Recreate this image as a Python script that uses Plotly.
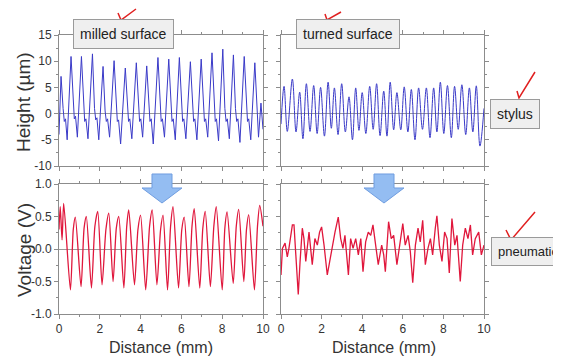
import plotly.graph_objects as go

# ---------------- data ----------------
milled_x = [0.00, 0.10, 0.20, 0.26, 0.32, 0.40, 0.59, 0.69, 0.75, 0.81, 0.90,
            1.10, 1.20, 1.26, 1.32, 1.42, 1.64, 1.74, 1.80, 1.86, 1.95,
            2.16, 2.26, 2.32, 2.38, 2.48, 2.70, 2.80, 2.86, 2.92, 3.02,
            3.25, 3.35, 3.41, 3.47, 3.57, 3.79, 3.89, 3.95, 4.01, 4.10,
            4.30, 4.40, 4.46, 4.52, 4.62, 4.85, 4.95, 5.01, 5.07, 5.17,
            5.38, 5.48, 5.54, 5.60, 5.70, 5.90, 6.00, 6.06, 6.12, 6.22,
            6.44, 6.54, 6.60, 6.66, 6.76, 6.97, 7.07, 7.13, 7.19, 7.29,
            7.50, 7.60, 7.66, 7.72, 7.82, 8.03, 8.13, 8.19, 8.25, 8.35,
            8.55, 8.65, 8.71, 8.77, 8.87, 9.08, 9.18, 9.24, 9.30, 9.40,
            9.60, 9.70, 9.78, 9.90, 10.00]
milled_y = [-4.0, 7.1, 1.0, -1.5, -1.0, -5.0, 10.9, 1.5, -1.0, -0.5, -4.5,
            10.9, 1.0, -1.5, -1.0, -4.8, 11.4, 1.0, -1.2, -0.8, -5.0,
            9.0, 0.5, -1.5, -1.0, -4.5, 10.1, 1.0, -1.5, -1.2, -5.8,
            8.7, 0.5, -1.5, -1.0, -4.8, 9.7, 1.0, -1.5, -1.0, -4.5,
            9.1, 0.5, -1.5, -1.0, -5.8, 10.7, 1.0, -1.5, -1.0, -4.5,
            10.4, 1.0, -1.5, -1.0, -5.0, 10.7, 1.0, -1.5, -1.0, -4.8,
            9.9, 1.0, -1.5, -1.0, -5.0, 10.4, 1.0, -1.5, -1.0, -4.5,
            11.6, 1.0, -1.5, -1.0, -5.2, 12.3, 1.0, -1.5, -1.0, -4.8,
            11.2, 1.0, -1.5, -1.0, -5.5, 10.9, 1.0, -1.5, -1.0, -5.0,
            9.7, 1.0, -4.5, 2.0, -3.0]

turned_x = [0.0, 0.15, 0.31, 0.56, 0.74, 0.92, 1.08, 1.25, 1.43, 1.61,
            1.78, 1.95, 2.14, 2.32, 2.48, 2.63, 2.81, 2.99, 3.17, 3.35,
            3.52, 3.68, 3.84, 4.0, 4.18, 4.37, 4.54, 4.71, 4.88, 5.06,
            5.22, 5.38, 5.55, 5.71, 5.9, 6.07, 6.25, 6.42, 6.6, 6.78,
            6.97, 7.16, 7.34, 7.52, 7.68, 7.85, 8.02, 8.2, 8.39, 8.55,
            8.73, 8.91, 9.1, 9.28, 9.45, 9.62, 9.8, 10.0]
turned_y = [-2.0, 5.2, -3.4, 6.6, -3.5, 4.1, -4.8, 5.7, -3.4, 5.35,
            -3.8, 5.0, -4.3, 6.0, -2.8, 4.9, -4.0, 5.7, -3.5, 3.2,
            -5.0, 4.9, -3.2, 4.0, -3.8, 5.2, -3.0, 5.7, -4.2, 4.3,
            -4.3, 6.0, -3.1, 4.0, -3.1, 5.1, -3.5, 4.6, -5.0, 4.9,
            -3.0, 4.9, -4.6, 4.9, -3.5, 6.0, -3.8, 5.35, -4.6, 5.2,
            -3.0, 5.5, -4.0, 4.9, -3.5, 5.3, -6.2, 1.0]

volt_milled_x = [0.0, 0.06, 0.15, 0.23, 0.56, 0.70, 0.80, 1.08, 1.23, 1.34,
                 1.59, 1.76, 1.90, 2.11, 2.30, 2.44, 2.65, 2.81, 2.93, 3.18,
                 3.32, 3.42, 3.70, 3.87, 4.00, 4.25, 4.44, 4.57, 4.80, 4.98,
                 5.10, 5.32, 5.47, 5.59, 5.86, 6.02, 6.14, 6.37, 6.52, 6.63,
                 6.90, 7.05, 7.17, 7.42, 7.59, 7.71, 8.00, 8.13, 8.24, 8.54,
                 8.69, 8.81, 9.06, 9.19, 9.30, 9.58, 9.73, 9.84, 10.0]
volt_milled_y = [0.3, 0.65, 0.14, 0.70, -0.63, 0.30, 0.49, -0.58, 0.32, 0.50,
                 -0.60, 0.35, 0.58, -0.55, 0.30, 0.55, -0.50, 0.32, 0.50, -0.60,
                 0.35, 0.60, -0.55, 0.30, 0.52, -0.63, 0.35, 0.60, -0.55, 0.30,
                 0.52, -0.63, 0.35, 0.65, -0.60, 0.30, 0.49, -0.58, 0.35, 0.62,
                 -0.60, 0.32, 0.58, -0.58, 0.35, 0.65, -0.63, 0.32, 0.57, -0.53,
                 0.35, 0.61, -0.50, 0.30, 0.53, -0.63, 0.35, 0.67, 0.35]

volt_turned_x = [0.0, 0.07, 0.2, 0.31, 0.39, 0.56, 0.64, 0.72, 0.85, 0.94,
                 1.05, 1.13, 1.22, 1.38, 1.54, 1.67, 1.79, 1.9, 2.0, 2.12,
                 2.28, 2.4, 2.53, 2.66, 2.82, 2.94, 3.05, 3.15, 3.32, 3.43,
                 3.55, 3.68, 3.81, 3.93, 4.04, 4.17, 4.3, 4.42, 4.53, 4.67,
                 4.79, 4.96, 5.06, 5.14, 5.3, 5.43, 5.55, 5.71, 5.88, 6.0,
                 6.12, 6.26, 6.37, 6.49, 6.62, 6.75, 6.86, 6.98, 7.11, 7.24,
                 7.36, 7.47, 7.6, 7.68, 7.8, 7.93, 8.06, 8.18, 8.29, 8.42,
                 8.56, 8.67, 8.83, 8.95, 9.08, 9.21, 9.33, 9.44, 9.57, 9.74,
                 9.87, 10.0]
volt_turned_y = [-0.4, 0.01, 0.09, -0.12, 0.01, 0.37, 0.37, -0.09, -0.7, -0.19,
                 0.32, 0.16, -0.19, 0.26, -0.24, 0.16, 0.06, 0.26, 0.34, 0.06,
                 -0.4, -0.19, 0.06, 0.26, 0.49, 0.16, 0.01, 0.21, -0.4, 0.16,
                 0.01, 0.16, -0.09, 0.16, -0.35, 0.11, 0.26, 0.21, 0.37, 0.06,
                 -0.24, 0.06, -0.09, -0.35, 0.42, 0.16, 0.21, -0.24, 0.16, 0.39,
                 0.06, 0.21, -0.04, -0.52, 0.06, 0.32, 0.11, 0.44, -0.24, 0.01,
                 0.16, -0.09, 0.32, 0.51, 0.06, -0.19, 0.26, 0.16, -0.37, 0.47,
                 0.06, 0.21, -0.5, 0.06, 0.32, 0.16, 0.37, -0.09, 0.16, 0.26,
                 -0.09, 0.06]

x_tickvals = [0, 2, 4, 6, 8, 10]
x_ticktext = ["0", "2", "4", "6", "8", "10"]
h_tickvals = [-10, -5, 0, 5, 10, 15]
h_ticktext = ["-10", "-5", "0", "5", "10", "15"]
v_tickvals = [-1.0, -0.5, 0.0, 0.5, 1.0]
v_ticktext = ["-1.0", "-0.5", "0.0", "0.5", "1.0"]

panel_labels = ["milled surface", "turned surface"]
row_labels = ["stylus", "pneumatic"]

# ---------------- layout helpers ----------------
# the page body has an 8px default margin, so the figure starts at (8, 8) in the window
W, H = 561, 361
OX, OY = 8, 8
def px(x):
    return (x - OX) / W
def py(y):
    return 1 - (y - OY) / H
def path(points):
    s = ""
    for i, (a, b) in enumerate(points):
        s += ("M" if i == 0 else "L") + f"{px(a):.5f},{py(b):.5f} "
    return s

BLUE = "#3a3ac8"
RED = "#e0173c"
FRAME = "#8c8c8c"
TXT = "#333333"
FONT = "Liberation Sans, Arial, sans-serif"

fig = go.Figure()
fig.add_trace(go.Scatter(x=milled_x, y=milled_y, mode="lines",
                         line=dict(color=BLUE, width=1), xaxis="x", yaxis="y"))
fig.add_trace(go.Scatter(x=turned_x, y=turned_y, mode="lines",
                         line=dict(color=BLUE, width=1, shape="spline", smoothing=1.0),
                         xaxis="x2", yaxis="y2"))
fig.add_trace(go.Scatter(x=volt_milled_x, y=volt_milled_y, mode="lines",
                         line=dict(color=RED, width=1.3, shape="spline", smoothing=0.7),
                         xaxis="x3", yaxis="y3"))
fig.add_trace(go.Scatter(x=volt_turned_x, y=volt_turned_y, mode="lines",
                         line=dict(color=RED, width=1.3),
                         xaxis="x4", yaxis="y4"))

xl = [px(59), px(263)]
xr = [px(281), px(484)]
yt = [py(166), py(35)]
yb = [py(314), py(184)]

def xax(domain, anchor, labels):
    return dict(domain=domain, anchor=anchor, range=[0, 10], automargin=False,
                tickvals=x_tickvals, ticktext=x_ticktext, showticklabels=labels,
                ticks="outside", ticklen=4, tickcolor=FRAME, tickwidth=1,
                minor=dict(dtick=1, ticks="outside", ticklen=2, tickcolor=FRAME),
                showline=True, linecolor=FRAME, linewidth=1, mirror="ticks",
                showgrid=False, zeroline=False,
                tickfont=dict(family=FONT, size=12, color=TXT))

def yax(domain, anchor, rng, tv, tt, dmin, labels):
    return dict(domain=domain, anchor=anchor, range=rng, automargin=False,
                tickvals=tv, ticktext=tt, showticklabels=labels,
                ticks="outside", ticklen=4, tickcolor=FRAME, tickwidth=1,
                minor=dict(dtick=dmin, ticks="outside", ticklen=2, tickcolor=FRAME),
                showline=True, linecolor=FRAME, linewidth=1, mirror="ticks",
                showgrid=False, zeroline=True, zerolinecolor="#9a9a9a", zerolinewidth=1,
                tickfont=dict(family=FONT, size=12, color=TXT))

fig.update_layout(
    template="none",
    width=W, height=H, margin=dict(l=0, r=0, t=0, b=0, autoexpand=False),
    paper_bgcolor="white", plot_bgcolor="white", showlegend=False,
    xaxis=xax(xl, "y", False), yaxis=yax(yt, "x", [-10, 15], h_tickvals, h_ticktext, 2.5, True),
    xaxis2=xax(xr, "y2", False), yaxis2=yax(yt, "x2", [-10, 15], h_tickvals, h_ticktext, 2.5, False),
    xaxis3=xax(xl, "y3", True), yaxis3=yax(yb, "x3", [-1, 1], v_tickvals, v_ticktext, 0.25, True),
    xaxis4=xax(xr, "y4", True), yaxis4=yax(yb, "x4", [-1, 1], v_tickvals, v_ticktext, 0.25, False),
)

ann = []
def box(text, x, y, xanchor="center", size=14):
    ann.append(dict(text=text, xref="paper", yref="paper", x=px(x), y=py(y),
                    xanchor=xanchor, yanchor="middle", showarrow=False,
                    font=dict(family=FONT, size=size, color="#222"),
                    bgcolor="#efefef", bordercolor="#9a9a9a", borderwidth=1, borderpad=6))
box(panel_labels[0], 123, 34.5)
box(panel_labels[1], 348, 34.5)
box(row_labels[0], 515, 114)
box(row_labels[1], 491, 251, xanchor="left", size=13)

def title(text, x, y, angle=0, size=16):
    ann.append(dict(text=text, xref="paper", yref="paper", x=px(x), y=py(y),
                    xanchor="center", yanchor="middle", showarrow=False, textangle=angle,
                    font=dict(family=FONT, size=size, color=TXT)))
title("Height (µm)", 24, 102, -90, 19)
title("Voltage (V)", 24, 250, -90, 19)
title("Distance (mm)", 161, 347)
title("Distance (mm)", 384, 347)
fig.update_layout(annotations=ann)

shapes = []
# blue down arrows
for cx in (162, 384):
    pts = [(cx - 10, 174), (cx + 10, 174), (cx + 10, 188), (cx + 20, 188),
           (cx, 203), (cx - 20, 188), (cx - 10, 188), (cx - 10, 174)]
    shapes.append(dict(type="path", xref="paper", yref="paper", path=path(pts) + "Z",
                       fillcolor="#94bdf2", line=dict(color="#6f9de0", width=1), layer="above"))
# red check marks
for pts in ([(118, 13), (121, 20), (136, 9)],
            [(325, 14), (327, 20), (341, 12)],
            [(517, 91), (519, 98), (535, 72)],
            [(506, 230), (511, 240), (535, 212)]):
    shapes.append(dict(type="path", xref="paper", yref="paper", path=path(pts),
                       line=dict(color="#e02020", width=1.5), layer="above"))
fig.update_layout(shapes=shapes)

fig.write_html("out.html")
